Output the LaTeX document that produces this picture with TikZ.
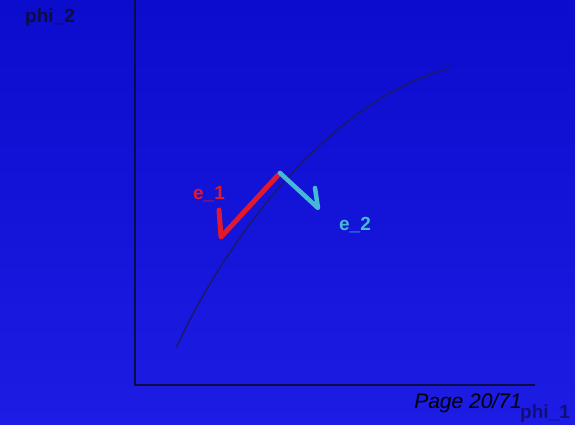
\documentclass[tikz,border=0pt]{standalone}
\usepackage{fontspec}
\setmainfont{Liberation Sans}
\definecolor{bgtop}{RGB}{12,12,205}
\definecolor{bgbot}{RGB}{28,28,228}
\definecolor{axiscol}{RGB}{12,12,70}
\definecolor{curvecol}{RGB}{25,25,110}
\definecolor{redvec}{RGB}{225,25,45}
\definecolor{cyanvec}{RGB}{70,185,215}
\begin{document}
\begin{tikzpicture}[x=1pt,y=-1pt,
  axisline/.style={draw=axiscol,line width=2.4pt},
  curveline/.style={draw=curvecol,line width=1.5pt},
  vecred/.style={draw=redvec,line width=5pt,line cap=round,line join=round},
  veccyan/.style={draw=cyanvec,line width=4.5pt,line cap=round,line join=round},
  lab/.style={font=\bfseries\fontsize{19}{19}\selectfont,inner sep=0pt}]
\useasboundingbox (0,0) rectangle (575,425);
\shade[top color=bgtop,bottom color=bgbot] (0,0) rectangle (575,425);
\coordinate (O) at (135,385);
\coordinate (ytop) at (135,0);
\coordinate (xend) at (535,385);
\draw[axisline] (ytop) -- (O) -- (xend);
\coordinate (cs) at (176,348);
\coordinate (ce) at (450,68);
\draw[curveline] (cs) .. controls (228,236) and (330,100) .. (ce);
\coordinate (P) at (280,173);
\coordinate (rtip) at (221,237);
\coordinate (rbarb) at (219,210);
\coordinate (ctip) at (318,208);
\coordinate (cbarb) at (315,188);
\draw[vecred] (P) -- (rtip) -- (rbarb);
\draw[veccyan] (P) -- (ctip) -- (cbarb);
\node[lab,text=redvec] (e1) at (209,194) {e\_1};
\node[lab,text=cyanvec] (e2) at (355,225) {e\_2};
\node[lab,text=axiscol] (phi2) at (50,18) {phi\_2};
\node[lab,text=axiscol,opacity=0.7] (phi1) at (545,414) {phi\_1};
\node[inner sep=0pt,font=\itshape\fontsize{21}{21}\selectfont,text=black] (page) at (468,403) {Page 20/71};
\end{tikzpicture}
\end{document}
